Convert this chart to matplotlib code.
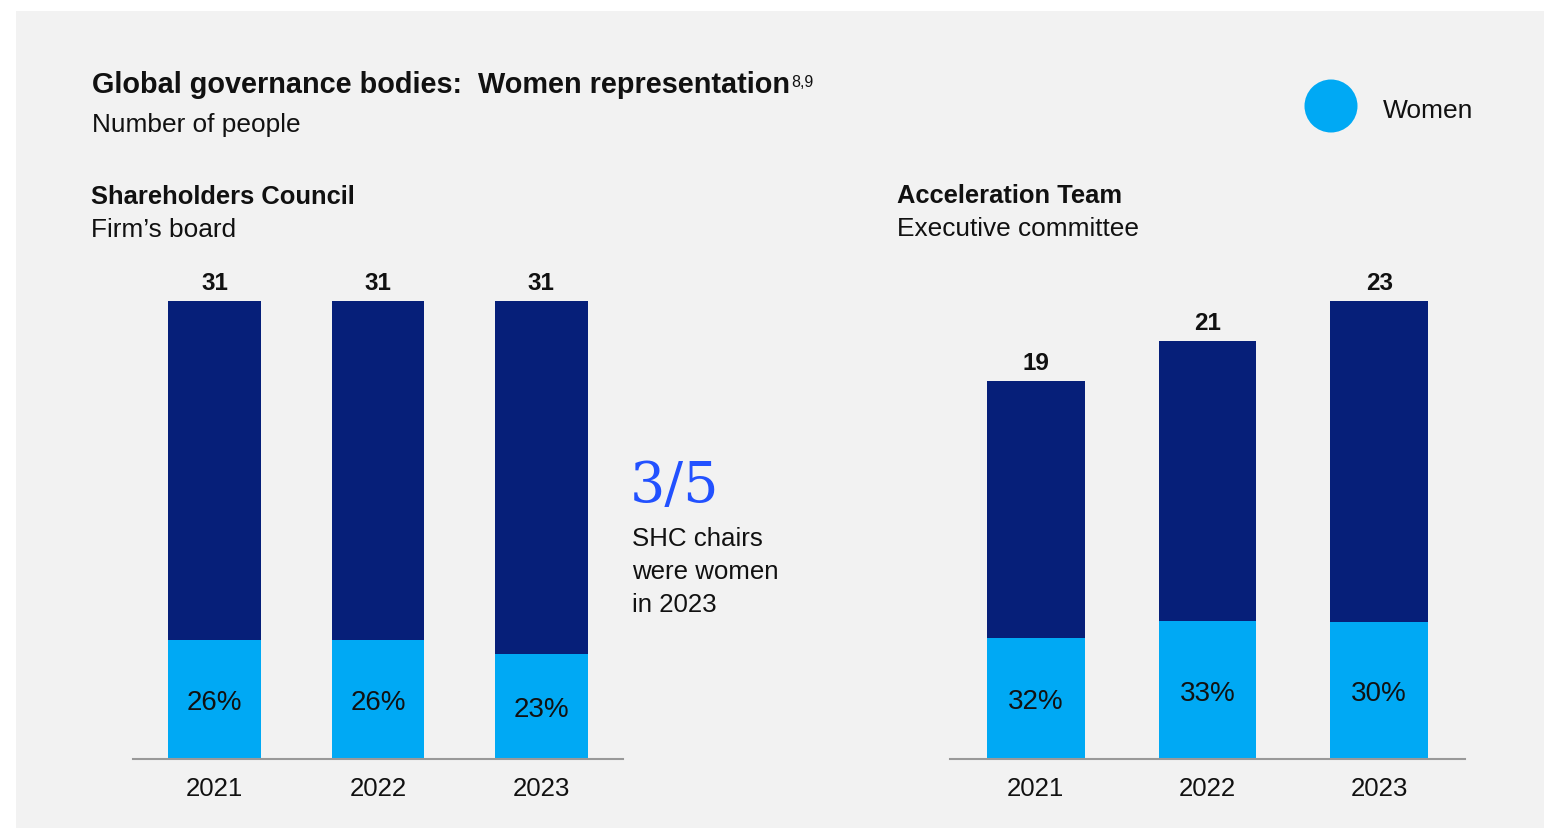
import matplotlib.pyplot as plt
from matplotlib.patches import Ellipse, Rectangle

plt.rcParams['font.family'] = ['Liberation Sans', 'DejaVu Sans']

W, H = 1544, 829

years = ['2021', '2022', '2023']

# Shareholders Council
shc_total = [31, 31, 31]
shc_pct = [26, 26, 23]

# Acceleration Team
acc_total = [19, 21, 23]
acc_pct = [32, 33, 30]

navy = '#061f79'
sky = '#00a9f4'
electric = '#2251ff'
txt = '#111111'
bg = '#f2f2f2'

fig = plt.figure(figsize=(W / 100, H / 100), dpi=100)
fig.patch.set_facecolor('white')
# gray panel
fig.patches.append(Rectangle((16 / W, 0), 1, 1 - 12 / H, transform=fig.transFigure,
                             facecolor=bg, edgecolor='none', zorder=-10))


def px(x, y):
    return x / W, 1 - y / H


def add_panel(left, right, total, pct):
    ax = fig.add_axes([left / W, (H - 760) / H, (right - left) / W, 458 / H])
    ax.set_facecolor('none')
    women = [t * p / 100 for t, p in zip(total, pct)]
    others = [t - w for t, w in zip(total, women)]
    pos = range(len(years))
    ax.bar(pos, women, width=0.567, color=sky, zorder=2)
    b = ax.bar(pos, others, bottom=women, width=0.567, color=navy, zorder=2)
    ax.bar_label(b, labels=[str(t) for t in total], padding=5,
                 fontsize=17.5, fontweight='bold', color=txt)
    for i, (w, p) in enumerate(zip(women, pct)):
        ax.text(i, w / 2, f'{p}%', ha='center', va='center_baseline', fontsize=20, color=txt)
    ax.set_ylim(0, max(total))
    ax.set_xlim(-0.5, 2.5)
    ax.set_xticks(list(pos))
    ax.set_xticklabels(years, fontsize=18.6, color=txt)
    ax.tick_params(axis='x', length=0, pad=12)
    ax.set_yticks([])
    for s in ['top', 'right', 'left']:
        ax.spines[s].set_visible(False)
    ax.spines['bottom'].set_color('#999999')
    ax.spines['bottom'].set_linewidth(1.5)
    return ax


ax1 = add_panel(133, 623, shc_total, shc_pct)
ax2 = add_panel(950, 1465, acc_total, acc_pct)

# titles
title = fig.text(*px(92, 85), 'Global governance bodies:  Women representation',
                 fontsize=20.8, fontweight='bold', color=txt, va='center')
plt.annotate('8,9', xy=(1, 1), xycoords=title, xytext=(1, -3), textcoords='offset points',
             fontsize=11.5, color=txt, va='top', ha='left')
fig.text(*px(92, 125), 'Number of people', fontsize=18.9, color=txt, va='center')

fig.text(*px(91, 197), 'Shareholders Council', fontsize=18.4, fontweight='bold', color=txt, va='center')
fig.text(*px(91, 230), 'Firm\u2019s board', fontsize=18.9, color=txt, va='center')
fig.text(*px(897, 196), 'Acceleration Team', fontsize=18.4, fontweight='bold', color=txt, va='center')
fig.text(*px(897, 229), 'Executive committee', fontsize=18.9, color=txt, va='center')

# legend
fig.patches.append(Ellipse(px(1331, 107), 53 / W, 53 / H, transform=fig.transFigure,
                           facecolor=sky, edgecolor='none'))
fig.text(*px(1383, 111), 'Women', fontsize=19, color=txt, va='center')

# callout
fig.text(*px(630, 487), '3/5', fontsize=40, color=electric, va='center',
         family=['DejaVu Serif'])
fig.text(*px(632, 539), 'SHC chairs', fontsize=18.6, color=txt, va='center')
fig.text(*px(632, 572), 'were women', fontsize=18.6, color=txt, va='center')
fig.text(*px(632, 605), 'in 2023', fontsize=18.6, color=txt, va='center')

fig.savefig('out.png', dpi=100, facecolor=fig.get_facecolor())
